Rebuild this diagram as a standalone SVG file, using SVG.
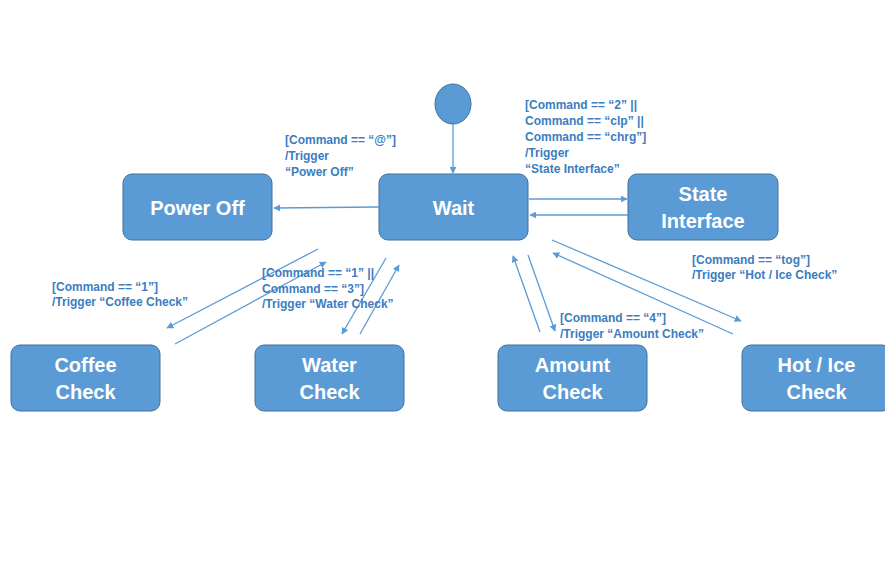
<svg xmlns="http://www.w3.org/2000/svg" width="885" height="572" viewBox="0 0 885 572">
<defs>
<marker id="ah" viewBox="0 0 10 10" refX="9" refY="5" markerWidth="7" markerHeight="7" markerUnits="userSpaceOnUse" orient="auto">
<path d="M0,0 L10,5 L0,10 z" fill="#5B9BD5"/>
</marker>
<style>
.node rect, .node ellipse { fill:#5B9BD5; stroke:#41719C; stroke-width:1; }
.nt { font-family:"Liberation Sans", Arial, sans-serif; font-weight:bold; font-size:20px; fill:#ffffff; text-anchor:middle; }
.lb { font-family:"Liberation Sans", Arial, sans-serif; font-weight:bold; font-size:12px; fill:#3B7DC0; }
.edges line { stroke:#5B9BD5; stroke-width:1.3; marker-end:url(#ah); }
</style>
</defs>
<rect width="885" height="572" fill="#ffffff"/>
<g id="init" class="node"><ellipse cx="453" cy="104" rx="18" ry="20"/></g>
<g id="power-off" class="node"><rect x="123" y="174" width="149" height="66" rx="9"/><text class="nt" x="197.5" y="215">Power Off</text></g>
<g id="wait" class="node"><rect x="379" y="174" width="149" height="66" rx="9"/><text class="nt" x="453.5" y="215">Wait</text></g>
<g id="state-interface" class="node"><rect x="628" y="174" width="150" height="66" rx="9"/><text class="nt" x="703" y="201">State</text><text class="nt" x="703" y="228">Interface</text></g>
<g id="coffee-check" class="node"><rect x="11" y="345" width="149" height="66" rx="9"/><text class="nt" x="85.5" y="372">Coffee</text><text class="nt" x="85.5" y="399">Check</text></g>
<g id="water-check" class="node"><rect x="255" y="345" width="149" height="66" rx="9"/><text class="nt" x="329.5" y="372">Water</text><text class="nt" x="329.5" y="399">Check</text></g>
<g id="amount-check" class="node"><rect x="498" y="345" width="149" height="66" rx="9"/><text class="nt" x="572.5" y="372">Amount</text><text class="nt" x="572.5" y="399">Check</text></g>
<g id="hot-ice-check" class="node"><rect x="742" y="345" width="149" height="66" rx="9"/><text class="nt" x="816.5" y="372">Hot / Ice</text><text class="nt" x="816.5" y="399">Check</text></g>
<g class="edges" id="connectors">
<line x1="453" y1="124" x2="453" y2="173"/>
<line x1="379" y1="207" x2="274" y2="208"/>
<line x1="529" y1="199" x2="627" y2="199"/>
<line x1="628" y1="215" x2="530" y2="215"/>
<line x1="318" y1="249" x2="167" y2="328"/>
<line x1="175" y1="344" x2="326" y2="262"/>
<line x1="386" y1="258" x2="342" y2="334"/>
<line x1="360" y1="334" x2="399" y2="265"/>
<line x1="540" y1="332" x2="513" y2="256"/>
<line x1="528" y1="255" x2="555" y2="331"/>
<line x1="552" y1="240" x2="741" y2="321"/>
<line x1="733" y1="334" x2="553" y2="253"/>
</g>
<g id="labels">
<text class="lb" x="285" y="144">[Command == “@”]</text>
<text class="lb" x="285" y="160">/Trigger</text>
<text class="lb" x="285" y="176">“Power Off”</text>
<text class="lb" x="525" y="109">[Command == “2” ||</text>
<text class="lb" x="525" y="125">Command == “clp” ||</text>
<text class="lb" x="525" y="141">Command == “chrg”]</text>
<text class="lb" x="525" y="157">/Trigger</text>
<text class="lb" x="525" y="173">“State Interface”</text>
<text class="lb" x="52" y="291">[Command == “1”]</text>
<text class="lb" x="52" y="306">/Trigger “Coffee Check”</text>
<text class="lb" x="262" y="277">[Command == “1” ||</text>
<text class="lb" x="262" y="293">Command == “3”]</text>
<text class="lb" x="262" y="308">/Trigger “Water Check”</text>
<text class="lb" x="692" y="264">[Command == “tog”]</text>
<text class="lb" x="692" y="279">/Trigger “Hot / Ice Check”</text>
<text class="lb" x="560" y="322">[Command == “4”]</text>
<text class="lb" x="560" y="338">/Trigger “Amount Check”</text>
</g>
</svg>
